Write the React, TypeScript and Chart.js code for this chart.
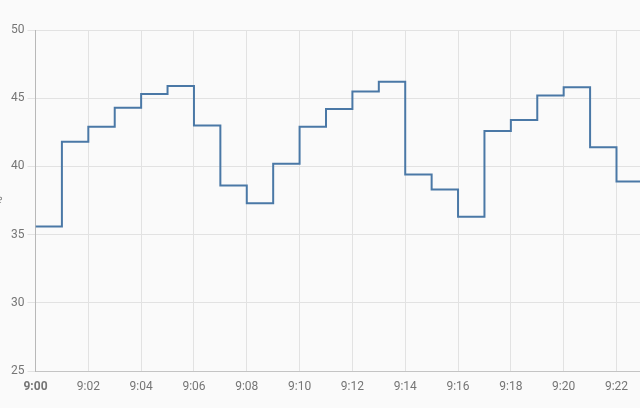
import React, { useEffect, useRef } from 'react';
import { Chart, registerables } from 'chart.js';

Chart.register(...registerables);

// minutes after 9:00
const minuteOffsets = [0, 1, 2, 3, 4, 5, 6, 7, 8, 9, 10, 11, 12, 13, 14, 15, 16, 17, 18, 19, 20, 21, 22, 23];
const humidity = [35.6, 41.8, 42.9, 44.3, 45.3, 45.9, 43.0, 38.6, 37.3, 40.2, 42.9, 44.2, 45.5, 46.2, 39.4, 38.3, 36.3, 42.6, 43.4, 45.2, 45.8, 41.4, 38.9, 38.9];
const xTickMinutes = [0, 2, 4, 6, 8, 10, 12, 14, 16, 18, 20, 22];
const yTickValues = [25, 30, 35, 40, 45, 50];
const hour = 9;
const unitLabel = '%';

export default function App() {
  const canvasRef = useRef<HTMLCanvasElement | null>(null);

  useEffect(() => {
    if (!canvasRef.current) return;
    const labelColor = '#757575';
    const gridColor = '#e2e2e2';
    const chart = new Chart(canvasRef.current, {
      type: 'line',
      data: {
        datasets: [
          {
            data: minuteOffsets.map((m, i) => ({ x: m, y: humidity[i] })),
            stepped: true,
            borderColor: '#4a78a6',
            borderWidth: 2,
            fill: false,
            pointRadius: 0,
            tension: 0,
          },
        ],
      },
      options: {
        animation: false,
        responsive: false,
        devicePixelRatio: 1,
        layout: { padding: { top: 30, right: 0, left: 0, bottom: 0 } },
        plugins: { legend: { display: false }, tooltip: { enabled: false } },
        scales: {
          x: {
            type: 'linear',
            min: 0,
            max: 22.89,
            afterBuildTicks: (s: any) => {
              s.ticks = xTickMinutes.map((v) => ({ value: v }));
            },
            afterFit: (s: any) => {
              s.height = 37;
            },
            ticks: {
              autoSkip: false,
              maxRotation: 0,
              padding: 9,
              color: labelColor,
              font: (ctx: any) => ({
                family: 'Roboto',
                size: 12,
                weight: ctx.tick && ctx.tick.value === 0 ? 'bold' : 'normal',
              }),
              callback: (v: any) => `${hour}:${String(v).padStart(2, '0')}`,
            },
            grid: { color: gridColor, drawTicks: false },
            border: { color: '#c4c4c4' },
          },
          y: {
            min: 25,
            max: 50,
            afterBuildTicks: (s: any) => {
              s.ticks = yTickValues.map((v) => ({ value: v }));
            },
            afterFit: (s: any) => {
              s.width = 43.5;
            },
            ticks: {
              padding: 3,
              color: labelColor,
              font: { family: 'Roboto', size: 12 },
            },
            grid: { color: gridColor, tickLength: 8 },
            border: { color: '#b8b8b8' },
            title: {
              display: true,
              text: unitLabel,
              color: labelColor,
              font: { family: 'Roboto', size: 12 },
              padding: { top: 0, bottom: 0 },
            },
          },
        },
      },
    });
    return () => chart.destroy();
  }, []);

  return (
    <div
      style={{
        position: 'fixed',
        left: 0,
        top: 0,
        width: 640,
        height: 408,
        overflow: 'hidden',
        background: '#fafafa',
      }}
    >
      <canvas
        ref={canvasRef}
        width={648}
        height={408}
        style={{ position: 'absolute', left: -8, top: 0, width: 648, height: 408 }}
      />
    </div>
  );
}
